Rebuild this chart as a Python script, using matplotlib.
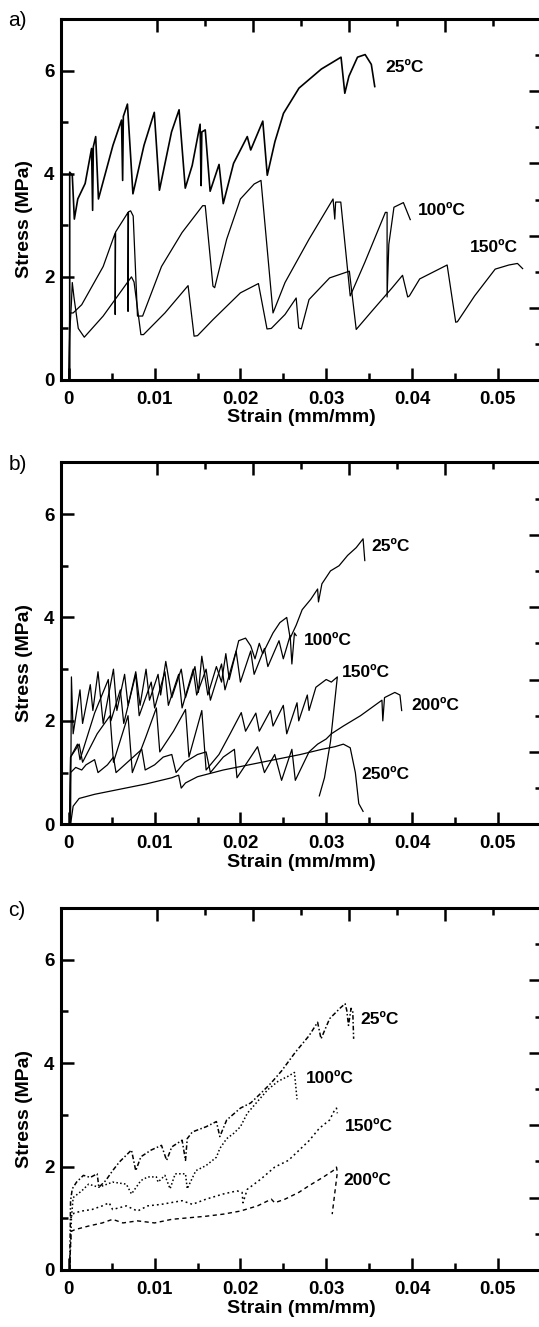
"""Stress-strain curves at several temperatures, three panels (a, b, c)."""

import matplotlib
matplotlib.use("Agg")
import matplotlib.pyplot as plt
from matplotlib.ticker import FixedLocator, FixedFormatter

plt.rcParams["font.family"] = ["Liberation Sans", "DejaVu Sans"]

# ---- data: (strain mm/mm, stress MPa) ----
a_25 = [(0.0001, 0.0), (0.0001, 4.03), (0.0004, 3.97), (0.00064, 3.12), (0.00104, 3.51),
        (0.0019, 3.81), (0.00265, 4.49), (0.00277, 3.29), (0.00285, 4.52), (0.00313, 4.72),
        (0.00345, 3.51), (0.00514, 4.55), (0.00614, 5.04), (0.00627, 3.87), (0.00635, 5.11),
        (0.00683, 5.35), (0.00747, 3.61), (0.00876, 4.55), (0.00996, 5.19), (0.01056, 3.68),
        (0.01197, 4.81), (0.01285, 5.24), (0.01357, 3.72), (0.01438, 4.16), (0.0153, 4.96),
        (0.01542, 3.77), (0.0155, 4.81), (0.0159, 4.85), (0.01647, 3.66), (0.01751, 4.18),
        (0.018, 3.42), (0.0192, 4.2), (0.0208, 4.72), (0.0212, 4.46), (0.02261, 5.02),
        (0.02313, 3.97), (0.02402, 4.62), (0.02502, 5.17), (0.02683, 5.66), (0.02944, 6.03),
        (0.03064, 6.15), (0.03173, 6.26), (0.03217, 5.56), (0.03265, 5.89), (0.03365, 6.26),
        (0.03454, 6.31), (0.03526, 6.12), (0.03566, 5.69)]
a_100 = [(0.0, 0.0), (0.0001, 1.3), (0.0005, 1.3), (0.0015, 1.46), (0.004, 2.2), (0.0054, 2.85),
         (0.0054, 1.27), (0.00545, 2.87), (0.0069, 3.25), (0.0069, 1.33), (0.00695, 3.26),
         (0.0072, 3.28), (0.0075, 3.18), (0.008, 1.24), (0.0086, 1.24), (0.0108, 2.2),
         (0.0132, 2.86), (0.0156, 3.38), (0.0159, 3.38), (0.0168, 1.82), (0.017, 1.79),
         (0.0184, 2.73), (0.02, 3.51), (0.0216, 3.8), (0.0224, 3.87), (0.0238, 1.3),
         (0.0252, 1.89), (0.028, 2.73), (0.0308, 3.51), (0.031, 3.12), (0.0311, 3.45),
         (0.0317, 3.45), (0.0328, 1.63), (0.0345, 2.28), (0.0369, 3.25), (0.0371, 3.25),
         (0.0371, 1.61), (0.0373, 2.63), (0.0379, 3.35), (0.039, 3.44), (0.0398, 3.11)]
a_150 = [(0.0, 0.0), (0.0001, 0.9), (0.0003, 1.5), (0.0004, 1.89), (0.0006, 1.6), (0.0011, 1.0),
         (0.0018, 0.83), (0.004, 1.24), (0.0073, 2.0), (0.0076, 1.9), (0.0084, 0.88),
         (0.0087, 0.88), (0.0112, 1.3), (0.0139, 1.83), (0.0146, 0.85), (0.015, 0.86),
         (0.0168, 1.17), (0.02, 1.69), (0.0221, 1.87), (0.0231, 0.99), (0.0236, 1.0),
         (0.0252, 1.27), (0.0265, 1.59), (0.0268, 1.01), (0.0271, 0.99), (0.028, 1.56),
         (0.0304, 1.98), (0.0327, 2.11), (0.0335, 0.98), (0.0353, 1.33), (0.0377, 1.79),
         (0.0389, 2.03), (0.0395, 1.61), (0.0397, 1.63), (0.0409, 1.96), (0.0441, 2.23),
         (0.0451, 1.12), (0.0453, 1.13), (0.0473, 1.63), (0.0497, 2.15), (0.0513, 2.23),
         (0.0523, 2.26), (0.0529, 2.16)]

b_25 = [(0.0002, 0.0), (0.0003, 2.85), (0.0005, 1.75), (0.0013, 2.6), (0.0016, 1.95), (0.0025, 2.7),
        (0.0028, 2.2), (0.0034, 2.95), (0.004, 1.95), (0.0052, 3.0), (0.0056, 2.2), (0.0065, 2.9),
        (0.0069, 2.3), (0.0078, 2.95), (0.0083, 2.3), (0.009, 3.0), (0.0094, 2.4), (0.0104, 2.9),
        (0.0107, 2.5), (0.0113, 3.15), (0.012, 2.45), (0.0131, 3.0), (0.0136, 2.45), (0.0147, 3.05),
        (0.0151, 2.55), (0.0155, 3.25), (0.0162, 2.5), (0.0172, 3.05), (0.0178, 2.75), (0.0183, 3.3),
        (0.0187, 2.8), (0.0198, 3.55), (0.0206, 3.6), (0.0212, 3.45), (0.0217, 3.2), (0.0222, 3.5),
        (0.0226, 3.3), (0.0238, 3.7), (0.0246, 3.9), (0.0254, 4.0), (0.0258, 3.6), (0.0265, 3.85),
        (0.0272, 4.15), (0.0282, 4.35), (0.029, 4.55), (0.0291, 4.3), (0.0295, 4.65), (0.0305, 4.9),
        (0.0315, 5.0), (0.0325, 5.2), (0.0335, 5.35), (0.0343, 5.52), (0.0345, 5.1)]
b_100 = [(0.0001, 0.0), (0.0002, 1.3), (0.001, 1.55), (0.0013, 1.25), (0.003, 2.15), (0.0046, 2.8),
         (0.0049, 2.0), (0.006, 2.6), (0.0064, 1.95), (0.0078, 2.9), (0.0082, 2.1), (0.0096, 2.75),
         (0.01, 2.25), (0.0112, 2.95), (0.0116, 2.3), (0.0128, 2.9), (0.0132, 2.25), (0.0145, 3.0),
         (0.0149, 2.5), (0.016, 3.0), (0.0165, 2.4), (0.0178, 3.1), (0.0182, 2.6), (0.0195, 3.35),
         (0.02, 2.75), (0.0212, 3.35), (0.0216, 2.9), (0.0228, 3.4), (0.0232, 3.05), (0.0245, 3.55),
         (0.025, 3.2), (0.0258, 3.65), (0.026, 3.1), (0.0263, 3.7), (0.0265, 3.65)]
b_150 = [(0.0001, 0.0), (0.0002, 1.3), (0.0012, 1.55), (0.0016, 1.2), (0.0033, 1.75), (0.0048, 2.1),
         (0.0052, 1.2), (0.0069, 2.1), (0.0074, 1.0), (0.009, 1.7), (0.0102, 2.25), (0.0106, 1.4),
         (0.0122, 1.8), (0.0136, 2.22), (0.014, 1.3), (0.0155, 2.2), (0.016, 1.05), (0.0175, 1.35),
         (0.0188, 1.75), (0.0201, 2.16), (0.0206, 1.8), (0.0218, 2.15), (0.0222, 1.8), (0.0235, 2.2),
         (0.0238, 1.9), (0.025, 2.3), (0.0254, 1.75), (0.0266, 2.35), (0.0268, 2.0), (0.0278, 2.5),
         (0.028, 2.2), (0.0288, 2.65), (0.03, 2.8), (0.0306, 2.75), (0.0313, 2.85), (0.0305, 1.6),
         (0.0298, 0.9), (0.0292, 0.55)]
b_200 = [(0.0001, 0.0), (0.0002, 1.0), (0.0008, 1.1), (0.0015, 1.05), (0.002, 1.15), (0.003, 1.25),
         (0.0034, 1.0), (0.0045, 1.15), (0.0052, 1.3), (0.0055, 1.0), (0.0065, 1.15), (0.0075, 1.3),
         (0.0085, 1.45), (0.0089, 1.05), (0.01, 1.15), (0.011, 1.3), (0.012, 1.35), (0.0125, 1.0),
         (0.0135, 1.2), (0.015, 1.35), (0.016, 1.4), (0.0165, 1.0), (0.018, 1.3), (0.0193, 1.45),
         (0.0196, 0.9), (0.021, 1.25), (0.022, 1.5), (0.0228, 1.0), (0.024, 1.35), (0.0248, 0.85),
         (0.026, 1.45), (0.0264, 0.85), (0.028, 1.4), (0.029, 1.55), (0.03, 1.65), (0.0306, 1.75),
         (0.032, 1.9), (0.034, 2.1), (0.0365, 2.4), (0.0366, 2.0), (0.0368, 2.45), (0.038, 2.55),
         (0.0386, 2.5), (0.0388, 2.2)]
b_250 = [(0.0002, 0.0), (0.0005, 0.35), (0.0012, 0.5), (0.003, 0.58), (0.006, 0.68), (0.009, 0.78),
         (0.012, 0.9), (0.0128, 0.95), (0.0131, 0.7), (0.0136, 0.8), (0.015, 0.92), (0.018, 1.05),
         (0.021, 1.15), (0.024, 1.25), (0.027, 1.35), (0.0295, 1.45), (0.031, 1.5), (0.032, 1.55),
         (0.0328, 1.48), (0.0334, 1.0), (0.0338, 0.4), (0.0343, 0.25)]

c_25 = [(0.0001, 0.0), (0.0002, 1.34), (0.0004, 1.57), (0.0009, 1.7), (0.0017, 1.83), (0.0025, 1.79),
        (0.0033, 1.86), (0.0035, 1.6), (0.0043, 1.73), (0.0051, 1.92), (0.0059, 2.09), (0.0073, 2.32),
        (0.0078, 1.92), (0.0084, 2.19), (0.0096, 2.32), (0.0108, 2.41), (0.0114, 2.12), (0.012, 2.38),
        (0.0132, 2.51), (0.0136, 2.12), (0.0138, 2.54), (0.0144, 2.67), (0.016, 2.77), (0.0172, 2.87),
        (0.0176, 2.58), (0.0184, 2.9), (0.02, 3.13), (0.0212, 3.23), (0.0224, 3.42), (0.0236, 3.62),
        (0.0248, 3.85), (0.0264, 4.21), (0.028, 4.53), (0.029, 4.79), (0.0294, 4.47), (0.0304, 4.86),
        (0.0316, 5.06), (0.0322, 5.15), (0.0324, 5.02), (0.0326, 4.73), (0.0329, 5.06), (0.0331, 4.99),
        (0.0332, 4.47)]
c_100 = [(0.0001, 0.0), (0.0003, 1.0), (0.0005, 1.4), (0.0015, 1.53), (0.0023, 1.66), (0.0035, 1.6),
         (0.0051, 1.7), (0.0067, 1.66), (0.0073, 1.47), (0.0084, 1.73), (0.0092, 1.8), (0.0102, 1.8),
         (0.0104, 1.7), (0.0112, 1.83), (0.0118, 1.57), (0.0124, 1.86), (0.0136, 1.86), (0.0138, 1.57),
         (0.0148, 1.92), (0.016, 2.02), (0.0172, 2.18), (0.0176, 2.35), (0.0184, 2.54), (0.0192, 2.64),
         (0.02, 2.77), (0.0208, 3.03), (0.022, 3.26), (0.0232, 3.49), (0.0244, 3.65), (0.0256, 3.75),
         (0.0263, 3.82), (0.0266, 3.3)]
c_150 = [(0.0002, 1.0), (0.0006, 1.1), (0.0015, 1.14), (0.0027, 1.17), (0.0039, 1.24), (0.0047, 1.3),
         (0.0051, 1.17), (0.0067, 1.24), (0.008, 1.14), (0.0092, 1.24), (0.0108, 1.27), (0.0132, 1.34),
         (0.0144, 1.27), (0.016, 1.37), (0.018, 1.47), (0.0196, 1.53), (0.0202, 1.5), (0.0203, 1.3),
         (0.0208, 1.56), (0.0224, 1.76), (0.024, 1.99), (0.0256, 2.12), (0.0268, 2.31), (0.028, 2.5),
         (0.0292, 2.74), (0.0304, 2.9), (0.031, 3.1), (0.0312, 3.13), (0.0313, 3.03)]
c_200 = [(0.0001, 0.0), (0.0002, 0.5), (0.0003, 0.75), (0.0007, 0.78), (0.0023, 0.85), (0.0039, 0.91),
         (0.0051, 0.98), (0.0063, 0.91), (0.008, 0.95), (0.01, 0.91), (0.012, 0.98), (0.014, 1.01),
         (0.016, 1.04), (0.018, 1.08), (0.02, 1.14), (0.022, 1.24), (0.0236, 1.37), (0.024, 1.3),
         (0.0252, 1.37), (0.0268, 1.5), (0.028, 1.63), (0.0296, 1.79), (0.0308, 1.92), (0.0312, 1.99),
         (0.0313, 1.89), (0.0307, 1.08)]

# curve label positions (left edge x, centre y) per panel
a_labels = [("25ºC", 0.0369, 6.05), ("100ºC", 0.0407, 3.29), ("150ºC", 0.0467, 2.57)]
b_labels = [("25ºC", 0.0353, 5.38), ("100ºC", 0.0274, 3.56), ("150ºC", 0.0318, 2.94),
            ("200ºC", 0.0399, 2.29), ("250ºC", 0.0341, 0.97)]
c_labels = [("25ºC", 0.034, 4.85), ("100ºC", 0.0276, 3.71), ("150ºC", 0.0322, 2.77),
            ("200ºC", 0.032, 1.74)]

x_ticks = [0, 0.01, 0.02, 0.03, 0.04, 0.05]
x_ticklabels = ["0", "0.01", "0.02", "0.03", "0.04", "0.05"]
y_ticks = [0, 2, 4, 6]

W, H = 539, 1327
LEFT, RIGHT = 60.7, 541.5          # axes edges in pixels (right spine falls off the page)
PANELS = [("a)", 19, 380), ("b)", 462.3, 824.3), ("c)", 908, 1270)]   # top/bottom px


def style_axes(ax):
    for s in ax.spines.values():
        s.set_linewidth(2.2)
    ax.set_xlim(-0.00095, 0.0551)
    ax.set_ylim(0, 7)
    ax.xaxis.set_major_locator(FixedLocator(x_ticks))
    ax.xaxis.set_major_formatter(FixedFormatter(x_ticklabels))
    ax.xaxis.set_minor_locator(FixedLocator([0.005, 0.015, 0.025, 0.035, 0.045]))
    ax.yaxis.set_major_locator(FixedLocator(y_ticks))
    ax.yaxis.set_minor_locator(FixedLocator([1, 3, 5]))
    ax.tick_params(which="both", direction="in", top=False, right=False, width=1.8)
    ax.tick_params(which="major", length=9)
    ax.tick_params(which="minor", length=5)
    ax.tick_params(axis="x", which="major", pad=8, labelsize=13.5)
    ax.tick_params(axis="y", which="major", pad=4.5, labelsize=13.5)
    for lab in ax.get_xticklabels() + ax.get_yticklabels():
        lab.set_fontweight("bold")
    ax.set_xlabel("Strain (mm/mm)", fontsize=14, fontweight="bold", va="center")
    ax.set_ylabel("Stress (MPa)", fontsize=14, fontweight="bold", va="center")
    ax.xaxis.set_label_coords(0.5, -0.105)
    ax.yaxis.set_label_coords(-0.076, 0.446)


def extra_ticks(fig, rect):
    # top and right tick marks on their own 0-10 scale, no labels
    ax2 = fig.add_axes(rect, frameon=False)
    ax2.patch.set_visible(False)
    ax2.set_xlim(0, 10)
    ax2.set_ylim(0, 10)
    ax2.xaxis.tick_top()
    ax2.yaxis.tick_right()
    ax2.xaxis.set_major_locator(FixedLocator([2, 4, 6, 8]))
    ax2.xaxis.set_minor_locator(FixedLocator([3, 5, 7, 9]))
    ax2.yaxis.set_major_locator(FixedLocator([2, 4, 6, 8]))
    ax2.yaxis.set_minor_locator(FixedLocator([1, 3, 5, 7, 9]))
    ax2.tick_params(which="both", direction="in", width=1.8, labeltop=False, labelright=False,
                    labelbottom=False, labelleft=False, bottom=False, left=False)
    ax2.tick_params(which="major", length=9.5)
    ax2.tick_params(which="minor", length=5)


def draw(ax, curves, labels):
    for pts, kw in curves:
        xs = [p[0] for p in pts]
        ys = [p[1] for p in pts]
        ax.plot(xs, ys, color="black", **kw)
    for text, x, y in labels:
        ax.text(x, y, text, ha="left", va="center", fontsize=12.5, fontweight="bold")


fig = plt.figure(figsize=(W / 100, H / 100), dpi=100)
axes = []
for tag, top, bot in PANELS:
    rect = [LEFT / W, 1 - bot / H, (RIGHT - LEFT) / W, (bot - top) / H]
    ax = fig.add_axes(rect)
    style_axes(ax)
    extra_ticks(fig, rect)
    fig.text(8.6 / W, 1 - (top + 2) / H, tag, ha="left", va="center", fontsize=15)
    axes.append(ax)

solid = dict(lw=0.9)
draw(axes[0], [(a_25, dict(lw=1.2)), (a_100, solid), (a_150, solid)], a_labels)
draw(axes[1], [(b_25, solid), (b_100, solid), (b_150, solid), (b_200, solid), (b_250, solid)],
     b_labels)
draw(axes[2], [(c_25, dict(lw=1.1, ls=(0, (3, 1.5, 1, 1.5)))),
               (c_100, dict(lw=1.1, ls=(0, (1, 1.5)))),
               (c_150, dict(lw=1.1, ls=(0, (1.2, 2)))),
               (c_200, dict(lw=1.0, ls=(0, (3, 2.5))))], c_labels)

fig.savefig("out.png", dpi=100)
